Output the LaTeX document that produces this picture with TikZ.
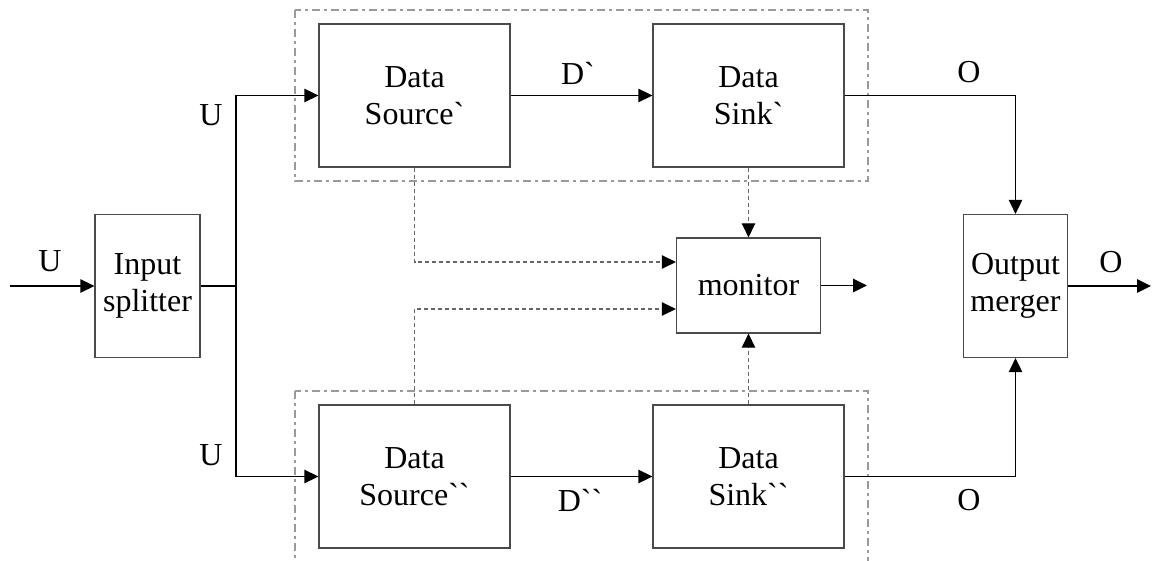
\documentclass[tikz,border=0pt]{standalone}
\usepackage{fontspec}
\setmainfont{Liberation Serif}[Ligatures=TeXOff]
\usetikzlibrary{arrows.meta}
\definecolor{boxgray}{HTML}{4A4A4A}
\definecolor{probegray}{HTML}{666666}
\definecolor{groupgray}{HTML}{9A9A9A}

\begin{document}
\begin{tikzpicture}[x=1pt,y=-1pt,
  txt/.style={font=\fontsize{32}{37}\selectfont},
  block/.style={txt, draw=boxgray, line width=1.3pt, rectangle, inner sep=0pt, align=center},
  lbl/.style={txt, inner sep=0pt},
  flow/.style={draw=black, line width=1.3pt, -{Triangle[length=14pt,width=13.5pt]}},
  wire/.style={draw=black, line width=1.3pt},
  probe/.style={draw=probegray, line width=1.1pt, dash pattern=on 4pt off 3pt,
    -{Triangle[length=14pt,width=13.5pt,color=black]}},
  group/.style={draw=groupgray, line width=1.3pt, dash pattern=on 8pt off 4pt on 3pt off 4pt}]

  \clip (0,0) rectangle (1154,561);
  \fill[white] (0,0) rectangle (1154,561);

  % dashed groupings of source/sink pairs
  \draw[group] (295,10) rectangle (868,181);
  \draw[group] (295,391) rectangle (868,600);

  % blocks
  \node[block, minimum width=105pt, minimum height=143pt] (split) at (147.5,286) {Input\\splitter};
  \node[block, minimum width=191pt, minimum height=143pt] (src1) at (414.5,95.5) {Data\\Source`};
  \node[block, minimum width=191pt, minimum height=143pt] (snk1) at (748.5,95.5) {Data\\Sink`};
  \node[block, minimum width=191pt, minimum height=143pt] (src2) at (414.5,476.5) {Data\\Source``};
  \node[block, minimum width=191pt, minimum height=143pt] (snk2) at (748.5,476.5) {Data\\Sink``};
  \node[block, minimum width=144pt, minimum height=95pt] (mon) at (748.5,285.5) {monitor};
  \node[block, minimum width=104pt, minimum height=143pt] (merge) at (1015.5,286) {Output\\merger};

  % free ends, branch point and monitor input taps
  \coordinate (in) at (10,286);
  \coordinate (fork) at (236,286);
  \coordinate (monout) at (867,285.5);
  \coordinate (out) at (1151,286);
  \coordinate (monin1) at ([yshift=23.5pt]mon.west);
  \coordinate (monin2) at ([yshift=-23.5pt]mon.west);

  % main data flow
  \draw[flow] (in) -- (split.west);
  \draw[wire] (split.east) -- (fork);
  \draw[flow] (fork) |- (src1.west);
  \draw[flow] (fork) |- (src2.west);
  \draw[flow] (src1.east) -- (snk1.west);
  \draw[flow] (src2.east) -- (snk2.west);
  \draw[flow] (snk1.east) -| (merge.north);
  \draw[flow] (snk2.east) -| (merge.south);
  \draw[flow] (merge.east) -- (out);
  \draw[flow] (mon.east) -- (monout);

  % monitoring taps
  \draw[probe] (src1.south) |- (monin1);
  \draw[probe] (src2.north) |- (monin2);
  \draw[probe] (snk1.south) -- (mon.north);
  \draw[probe] (snk2.north) -- (mon.south);

  % signal labels
  \node[lbl] (lu) at (50,261) {U};
  \node[lbl] (lu1) at (211,115) {U};
  \node[lbl] (lu2) at (211,455) {U};
  \node[lbl] (ld1) at (578,73) {D`};
  \node[lbl] (ld2) at (580,500) {D``};
  \node[lbl] (lo1) at (969,72) {O};
  \node[lbl] (lo2) at (969,500) {O};
  \node[lbl] (lo) at (1111,262) {O};
\end{tikzpicture}
\end{document}
